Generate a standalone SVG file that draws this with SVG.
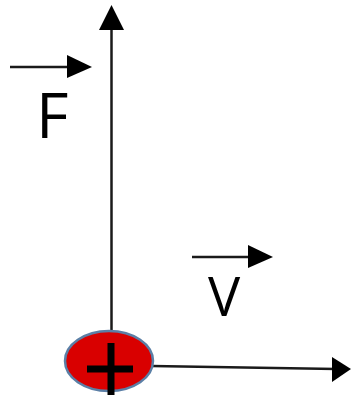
<svg xmlns="http://www.w3.org/2000/svg" width="351" height="398" viewBox="0 0 351 398">
<style>
.ln{stroke:#1a1a1a;stroke-width:2.5;fill:none}
.ah{fill:#000}
.lbl{font-family:"Open Sans","Liberation Sans",sans-serif;fill:#000}
</style>
<rect width="351" height="398" fill="#fff"/>
<g id="connectors">
<line class="ln" x1="111.5" y1="345" x2="111.5" y2="26"/>
<polygon class="ah" points="111.5,5 99,30 124,30"/>
<line class="ln" x1="152" y1="366" x2="336" y2="369"/>
<polygon class="ah" points="351,369 332,357 332,382"/>
</g>
<g id="force">
<line class="ln" x1="10" y1="67" x2="72" y2="67"/>
<polygon class="ah" points="92,67 67,55 67,78"/>
<text class="lbl" x="36" y="138" font-size="63">F</text>
</g>
<g id="velocity">
<line class="ln" x1="192" y1="257" x2="252" y2="257"/>
<polygon class="ah" points="273,257 248,245 248,268"/>
<text class="lbl" x="208" y="316" font-size="54">V</text>
</g>
<g id="charge">
<ellipse cx="109" cy="361" rx="44" ry="30" fill="#d90000" stroke="#5b7fa6" stroke-width="2.5"/>
<line x1="87" y1="369" x2="133" y2="369" stroke="#000" stroke-width="7"/>
<line x1="111" y1="343" x2="111" y2="395" stroke="#000" stroke-width="7"/>
</g>
</svg>
